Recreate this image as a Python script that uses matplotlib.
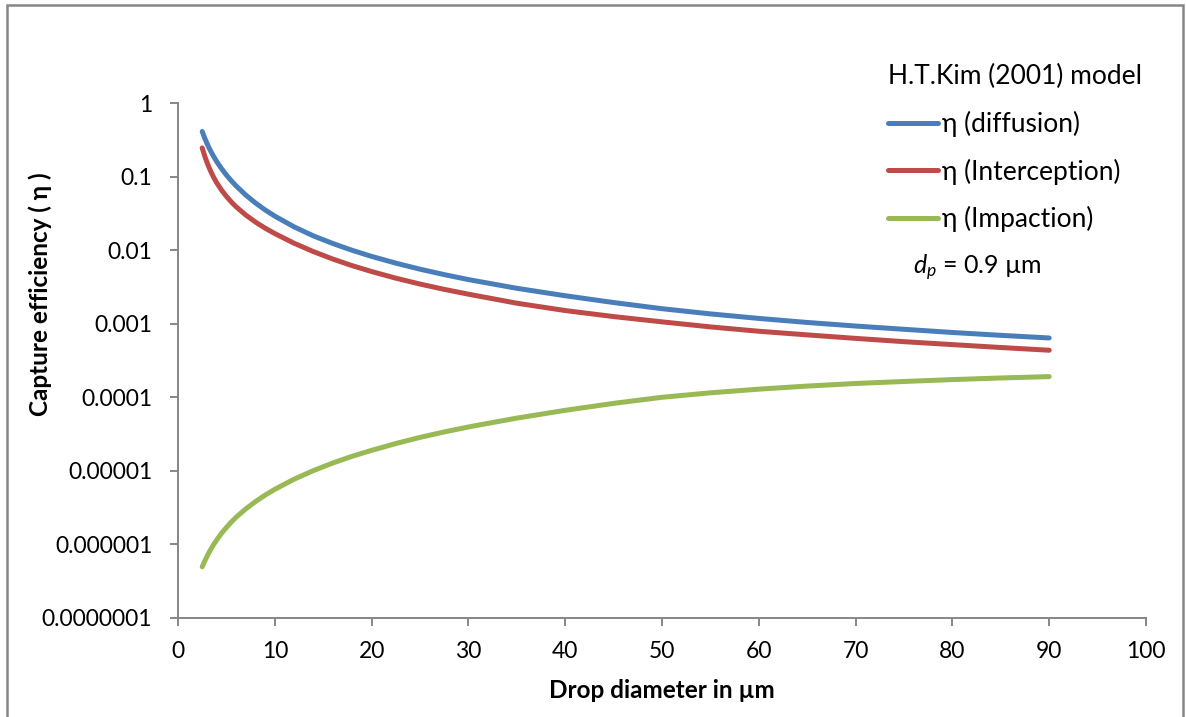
import matplotlib
matplotlib.use("Agg")
import matplotlib.pyplot as plt
from matplotlib.patches import Rectangle

plt.rcParams['font.family'] = ['Lato', 'DejaVu Sans']
plt.rcParams['mathtext.fontset'] = 'custom'
plt.rcParams['mathtext.it'] = 'Lato:italic'
plt.rcParams['mathtext.rm'] = 'Lato'

# Drop diameter (µm)
drop_diameter = [2.5, 2.75, 3, 3.25, 3.5, 3.75, 4, 4.5, 5, 5.5, 6, 7, 8, 9, 10, 12, 14,
                 16, 18, 20, 22.5, 25, 27.5, 30, 35, 40, 45, 50, 55, 60, 65, 70, 75, 80,
                 85, 90]

# Capture efficiencies, H.T. Kim (2001) model, particle diameter 0.9 µm
eta_diffusion = [0.410, 0.336, 0.281, 0.239, 0.207, 0.181, 0.160, 0.128, 0.105, 0.0879,
                 0.0747, 0.0561, 0.0438, 0.0352, 0.0290, 0.0207, 0.0156, 0.0123,
                 0.00994, 0.00822, 0.00666, 0.00551, 0.00465, 0.00398, 0.00303,
                 0.00240, 0.00194, 0.00160, 0.00136, 0.00118, 0.00104, 0.00093,
                 0.00084, 0.00076, 0.000695, 0.00064]
eta_interception = [0.245, 0.192, 0.155, 0.129, 0.109, 0.0939, 0.0823, 0.0654, 0.0538,
                    0.0453, 0.0389, 0.0300, 0.0241, 0.0199, 0.0168, 0.0124, 0.00954,
                    0.00756, 0.00615, 0.00512, 0.00416, 0.00346, 0.00293, 0.00252,
                    0.00190, 0.00151, 0.00125, 0.00106, 0.000905, 0.00079, 0.000705,
                    0.000632, 0.00057, 0.00052, 0.000475, 0.000436]
eta_impaction = [4.96e-7, 5.89e-7, 6.90e-7, 7.97e-7, 9.10e-7, 1.03e-6, 1.15e-6, 1.42e-6,
                 1.70e-6, 2.01e-6, 2.34e-6, 3.04e-6, 3.82e-6, 4.68e-6, 5.61e-6, 7.71e-6,
                 1.01e-5, 1.28e-5, 1.58e-5, 1.90e-5, 2.35e-5, 2.85e-5, 3.38e-5, 3.95e-5,
                 5.21e-5, 6.65e-5, 8.27e-5, 1.00e-4, 1.15e-4, 1.29e-4, 1.42e-4, 1.54e-4,
                 1.64e-4, 1.74e-4, 1.83e-4, 1.91e-4]

series_labels = ["η (diffusion)", "η (Interception)", "η (Impaction)"]
series_colors = ["#4A7EBB", "#BE4B48", "#98B954"]

y_ticks = [1e-7, 1e-6, 1e-5, 1e-4, 1e-3, 1e-2, 1e-1, 1]
y_tick_labels = ["0.0000001", "0.000001", "0.00001", "0.0001", "0.001", "0.01", "0.1", "1"]
x_ticks = list(range(0, 101, 10))

W, H = 1186, 717
fig = plt.figure(figsize=(W / 100, H / 100), dpi=100)
ax = fig.add_axes([178 / W, 1 - 618 / H, (1146 - 178) / W, (618 - 103) / H])

LW = 3.6
lines = []
for vals, lab, col in zip([eta_diffusion, eta_interception, eta_impaction],
                          series_labels, series_colors):
    ln, = ax.plot(drop_diameter, vals, color=col, lw=LW, solid_capstyle='round',
                  solid_joinstyle='round', label=lab)
    lines.append(ln)

ax.set_yscale('log')
ax.set_xlim(0, 100)
ax.set_ylim(1e-7, 1)
ax.set_xticks(x_ticks)
ax.set_xticklabels([str(v) for v in x_ticks])
ax.set_yticks(y_ticks)
ax.set_yticklabels(y_tick_labels)
ax.minorticks_off()

spine_col = "#868686"
for s in ['top', 'right']:
    ax.spines[s].set_visible(False)
for s in ['left', 'bottom']:
    ax.spines[s].set_color(spine_col)
    ax.spines[s].set_linewidth(1.4)
ax.tick_params(axis='both', direction='out', length=5.5, width=1.4, color=spine_col,
               labelsize=16.5, labelcolor='black')
ax.tick_params(axis='y', pad=13)
ax.tick_params(axis='x', pad=11)

fig.text(662 / W, 1 - 691 / H, "Drop diameter in µm", ha='center', va='center',
         fontsize=17.5, fontweight='bold')
fig.text(40 / W, 1 - 294 / H, "Capture efficiency ( η )", ha='center', va='center',
         rotation=90, fontsize=17.5, fontweight='bold')

leg = ax.legend(handles=lines, labels=series_labels, loc='upper left',
                bbox_to_anchor=(888 / W, 1 - 64 / H), bbox_transform=fig.transFigure,
                frameon=False, fontsize=19, title="H.T.Kim (2001) model",
                title_fontsize=19, alignment='left', handlelength=1.9,
                handletextpad=0.15, labelspacing=0.82, borderpad=0, borderaxespad=0)
for h in leg.legend_handles:
    h.set_linewidth(LW)
    h.set_solid_capstyle('round')

fig.text(913 / W, 1 - 268 / H, r"$d_p$ = 0.9 µm", ha='left', va='center', fontsize=18)

fig.patches.append(Rectangle((7 / W, -0.02), (1183 - 7) / W, 1.02 - 5 / H,
                             transform=fig.transFigure, fill=False,
                             edgecolor=spine_col, linewidth=1.8))

fig.savefig("out.png", dpi=100, facecolor='white')
